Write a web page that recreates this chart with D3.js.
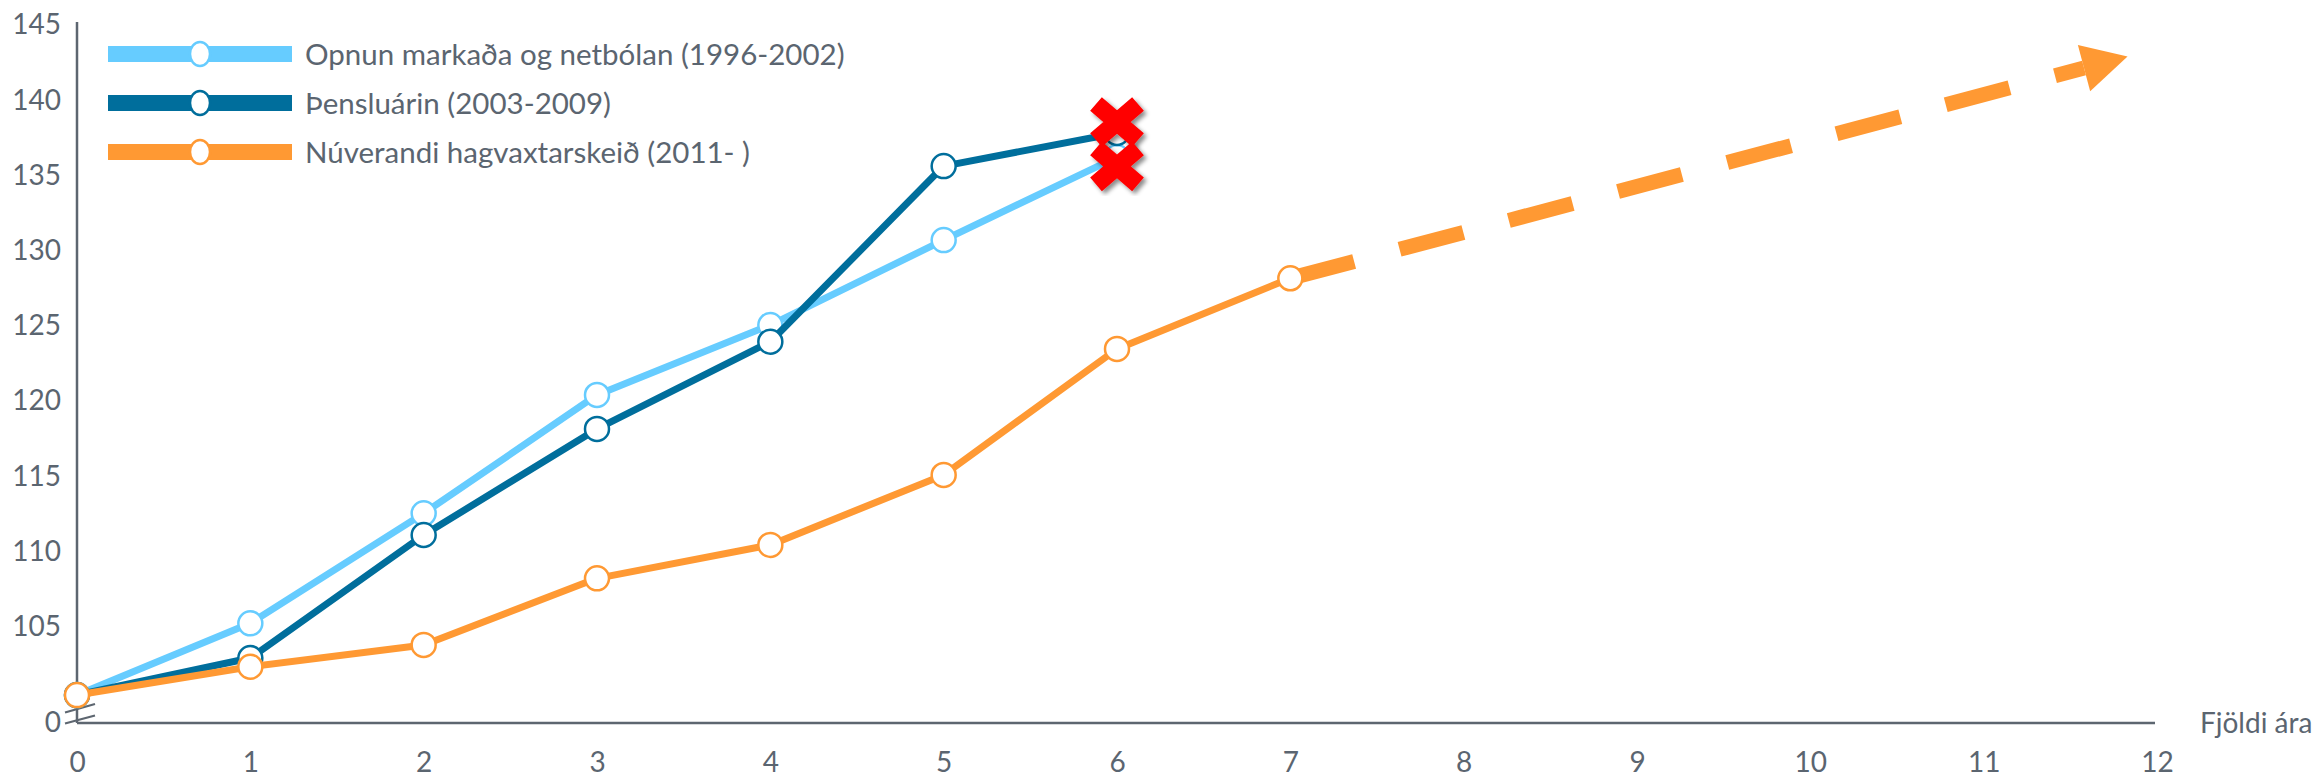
<!DOCTYPE html>
<html>
<head>
<meta charset="utf-8">
<script src="https://cdn.jsdelivr.net/npm/d3@7"></script>
<style>
  html, body { margin: 0; padding: 0; background: #fff; }
  svg { display: block; }
  text { font-family: Lato, "Open Sans", sans-serif; fill: #5b6570; }
</style>
</head>
<body>
<div id="chart"></div>
<script>
// years since start of the upswing
var years = [0, 1, 2, 3, 4, 5, 6, 7];

// index values
var opnun = [100.45, 105.22, 112.53, 120.40, 125.05, 130.70, 136.22];
var thensla = [100.45, 102.91, 111.09, 118.14, 123.94, 135.62, 137.82];
var nuverandi = [100.45, 102.33, 103.78, 108.21, 110.43, 115.08, 123.46, 128.16];

var seriesNames = ["Opnun markaða og netbólan (1996-2002)", "Þensluárin (2003-2009)", "Núverandi hagvaxtarskeið (2011- )"];
var seriesColors = ["#66ccff", "#006e9c", "#ff9933"];

var yTicks = [105, 110, 115, 120, 125, 130, 135, 140, 145];
var xTicks = [0, 1, 2, 3, 4, 5, 6, 7, 8, 9, 10, 11, 12];

// dashed projection arrow for the current upswing: [year, index]
var projFrom = [7, 128.16];
var projTo = [11.83, 142.9];

// red crosses where the earlier upswings ended
var crosses = [[6, 138.55], [6, 135.6]];

var width = 2320, height = 778;
var yBreak = 98.59; // bottom of the broken axis, labelled 0

var x = d3.scaleLinear().domain([0, 12]).range([77, 2157]);
var y = d3.scaleLinear().domain([yBreak, 145]).range([723, 25]);

var svg = d3.select("#chart").append("svg")
  .attr("width", width)
  .attr("height", height);

var defs = svg.append("defs");
var shadow = defs.append("filter").attr("id", "shadow")
  .attr("x", "-30%").attr("y", "-30%").attr("width", "160%").attr("height", "160%");
shadow.append("feDropShadow")
  .attr("dx", 3).attr("dy", 3).attr("stdDeviation", 2.2)
  .attr("flood-color", "#000").attr("flood-opacity", 0.45);

// axes
var yAxis = d3.axisLeft(y)
  .tickValues([yBreak].concat(yTicks))
  .tickFormat(function (d) { return d == yBreak ? "0" : d; })
  .tickSize(0)
  .tickPadding(16);

var gy = svg.append("g").attr("transform", "translate(" + x(0) + ",0)").call(yAxis);
gy.select(".domain").remove();
gy.selectAll("text").style("font-size", "28px").attr("font-family", null);

var xAxis = d3.axisBottom(x)
  .tickValues(xTicks)
  .tickSize(0)
  .tickPadding(29);

var gx = svg.append("g").attr("transform", "translate(0," + y(yBreak) + ")").call(xAxis);
gx.select(".domain").remove();
gx.selectAll("text").style("font-size", "28px").attr("font-family", null);

var axisColor = "#5d6670";
svg.append("line")
  .attr("x1", x(0)).attr("x2", x(0))
  .attr("y1", 22).attr("y2", y(yBreak))
  .style("stroke", axisColor).style("stroke-width", 2.5);
svg.append("line")
  .attr("x1", x(0)).attr("x2", 2155)
  .attr("y1", y(yBreak)).attr("y2", y(yBreak))
  .style("stroke", axisColor).style("stroke-width", 2.5);

// axis break marks
svg.append("line")
  .attr("x1", 65).attr("y1", 712.5).attr("x2", 95).attr("y2", 704)
  .style("stroke", axisColor).style("stroke-width", 2.2);
svg.append("line")
  .attr("x1", 65).attr("y1", 723.5).attr("x2", 95).attr("y2", 715.5)
  .style("stroke", axisColor).style("stroke-width", 2.2);

svg.append("text")
  .attr("x", 2200).attr("y", y(yBreak) + 10)
  .style("font-size", "28px")
  .text("Fjöldi ára");

// projection arrow
var p0 = [x(projFrom[0]), y(projFrom[1])];
var p1 = [x(projTo[0]), y(projTo[1])];
var len = Math.hypot(p1[0] - p0[0], p1[1] - p0[1]);
var ux = (p1[0] - p0[0]) / len, uy = (p1[1] - p0[1]) / len;
var headLen = 45, headHalf = 24;
var base = [p1[0] - ux * headLen, p1[1] - uy * headLen];

svg.append("line")
  .attr("x1", p0[0]).attr("y1", p0[1])
  .attr("x2", base[0]).attr("y2", base[1])
  .style("stroke", seriesColors[2])
  .style("stroke-width", 15)
  .style("stroke-dasharray", "66 47");

svg.append("path")
  .attr("d", "M" + p1[0] + "," + p1[1] +
    "L" + (base[0] - uy * headHalf) + "," + (base[1] + ux * headHalf) +
    "L" + (base[0] + uy * headHalf) + "," + (base[1] - ux * headHalf) + "Z")
  .style("fill", seriesColors[2]);

// series
var allSeries = [opnun, thensla, nuverandi];
var line = d3.line()
  .x(function (d, i) { return x(years[i]); })
  .y(function (d) { return y(d); });

allSeries.forEach(function (values, s) {
  svg.append("path")
    .datum(values)
    .attr("d", line)
    .style("fill", "none")
    .style("stroke", seriesColors[s])
    .style("stroke-width", 7)
    .style("stroke-linejoin", "round");

  svg.selectAll(".marker" + s)
    .data(values)
    .enter()
    .append("circle")
    .attr("class", "marker" + s)
    .attr("cx", function (d, i) { return x(years[i]); })
    .attr("cy", function (d) { return y(d); })
    .attr("r", 12)
    .style("fill", "#fff")
    .style("stroke", seriesColors[s])
    .style("stroke-width", 2.5);
});

// crosses
crosses.forEach(function (c) {
  var cx = x(c[0]), cy = y(c[1]), dx = 21, dy = 18;
  svg.append("path")
    .attr("d", "M" + (cx - dx) + "," + (cy - dy) + "L" + (cx + dx) + "," + (cy + dy) +
      "M" + (cx + dx) + "," + (cy - dy) + "L" + (cx - dx) + "," + (cy + dy))
    .style("stroke", "#ff0000")
    .style("stroke-width", 18)
    .style("fill", "none")
    .attr("filter", "url(#shadow)");
});

// legend
var legendY = [54, 103, 152];
seriesNames.forEach(function (name, i) {
  var g = svg.append("g").attr("transform", "translate(0," + legendY[i] + ")");
  g.append("line")
    .attr("x1", 108).attr("x2", 292)
    .style("stroke", seriesColors[i])
    .style("stroke-width", 16);
  g.append("ellipse")
    .attr("cx", 200).attr("cy", 0)
    .attr("rx", 10).attr("ry", 12)
    .style("fill", "#fff")
    .style("stroke", seriesColors[i])
    .style("stroke-width", 2.5);
  g.append("text")
    .attr("x", 305).attr("dy", "0.36em")
    .style("font-size", "29.5px")
    .text(name);
});
</script>
</body>
</html>
